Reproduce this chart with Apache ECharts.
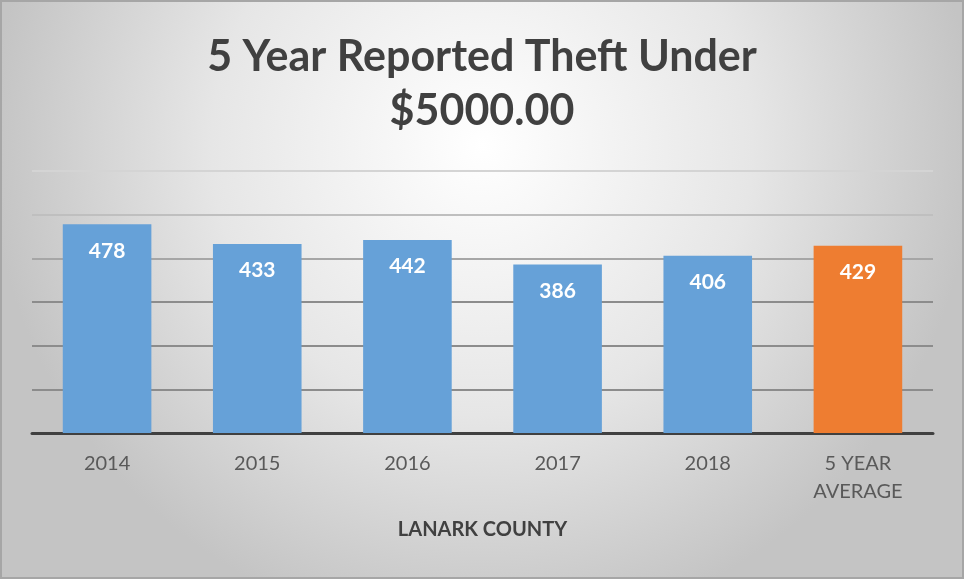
<!DOCTYPE html>
<html>
<head>
<meta charset="utf-8">
<script src="https://cdn.jsdelivr.net/npm/echarts@6/dist/echarts.min.js"></script>
<style>
  html, body { margin: 0; padding: 0; }
  #chart { width: 964px; height: 579px; }
</style>
</head>
<body>
<div id="chart"></div>
<script>
// 類別與數值
const categories = ['2014', '2015', '2016', '2017', '2018', '5 YEAR\nAVERAGE'];
const thefts = [478, 433, 442, 386, 406, 429];
const barColors = ['#66a1d8', '#66a1d8', '#66a1d8', '#66a1d8', '#66a1d8', '#ee7d31'];

const chart = echarts.init(document.getElementById('chart'));

chart.setOption({
  backgroundColor: {
    type: 'radial', x: 0.5, y: 0.25, r: 0.85,
    colorStops: [
      { offset: 0, color: '#ffffff' },
      { offset: 0.55, color: '#e6e6e6' },
      { offset: 1, color: '#c4c4c4' }
    ]
  },
  title: {
    text: '5 Year Reported Theft Under\n$5000.00',
    left: 'center',
    top: 30,
    padding: 0,
    textStyle: {
      fontFamily: 'Lato',
      fontWeight: 'bold',
      fontSize: 43,
      lineHeight: 54,
      color: '#404040'
    }
  },
  graphic: [{
    type: 'rect',
    shape: { x: 1, y: 1, width: 962, height: 577 },
    style: { fill: 'none', stroke: '#a6a6a6', lineWidth: 2 }
  }],
  grid: { left: 32, right: 31, top: 171, bottom: 146 },
  xAxis: {
    type: 'category',
    data: categories,
    axisTick: { show: false },
    axisLine: { lineStyle: { color: '#404040', width: 3 } },
    axisLabel: {
      fontFamily: 'Lato',
      fontSize: 20,
      lineHeight: 28,
      color: '#595959',
      margin: 17
    },
    name: 'LANARK COUNTY',
    nameLocation: 'middle',
    nameGap: 87,
    nameTextStyle: {
      fontFamily: 'Lato',
      fontWeight: 'bold',
      fontSize: 20,
      color: '#404040'
    }
  },
  yAxis: {
    type: 'value',
    min: 0,
    max: 600,
    interval: 100,
    axisLabel: { show: false },
    axisLine: { show: false },
    axisTick: { show: false },
    splitLine: {
      lineStyle: {
        color: ['#8c8c8c', '#8c8c8c', '#8c8c8c', '#8c8c8c', '#a6a6a6', '#bfbfbf', '#d4d4d4'],
        width: 2
      }
    }
  },
  series: [{
    type: 'bar',
    data: thefts.map((v, i) => ({ value: v, itemStyle: { color: barColors[i] } })),
    barWidth: '59%',
    label: {
      show: true,
      position: 'insideTop',
      distance: 16,
      color: '#ffffff',
      fontFamily: 'Lato',
      fontWeight: 'bold',
      fontSize: 21
    }
  }]
});
</script>
</body>
</html>
